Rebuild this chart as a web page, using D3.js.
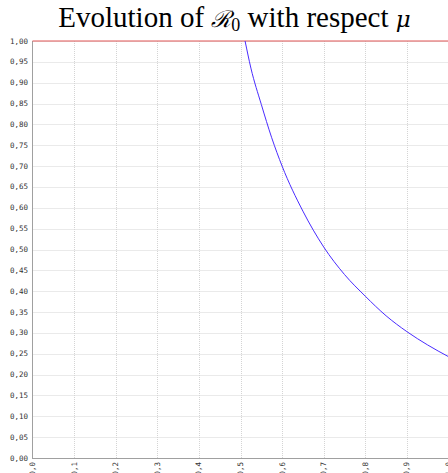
<!DOCTYPE html>
<html><head><meta charset="utf-8">
<script src="https://cdn.jsdelivr.net/npm/d3@7"></script>
<style>body{margin:0;background:#fff}svg{display:block}</style>
</head><body>
<svg id="c" width="448" height="473"></svg>
<script>
const muValues = [0.511,0.525,0.55,0.575,0.60,0.65,0.70,0.75,0.80,0.85,0.90,0.95,1.00];
const r0Values = [1.00,0.935,0.848,0.768,0.700,0.592,0.506,0.440,0.388,0.341,0.303,0.271,0.243];
const thresholdValue = 1.0;
const xTicks = [0,0.1,0.2,0.3,0.4,0.5,0.6,0.7,0.8,0.9,1.0];
const yTicks = d3.range(0,21).map(i=>i*0.05);

const svg = d3.select("#c");
const x = d3.scaleLinear().domain([0,1]).range([32.5,448.5]);
const y = d3.scaleLinear().domain([0,1]).range([458,41]);
const fmt1 = d => d3.format(".1f")(d).replace(".",",");
const fmt2 = d => d3.format(".2f")(d).replace(".",",");

// grid
const g = svg.append("g");
g.selectAll(".hg").data(yTicks.slice(1)).join("line")
 .attr("x1",x(0)).attr("x2",x(1)).attr("y1",d=>Math.round(y(d))+0.5).attr("y2",d=>Math.round(y(d))+0.5)
 .attr("stroke","#d4d4d4").attr("stroke-dasharray","1,1");
g.selectAll(".vg").data(xTicks.slice(1)).join("line")
 .attr("y1",y(0)).attr("y2",y(1)).attr("x1",d=>Math.round(x(d))+0.5).attr("x2",d=>Math.round(x(d))+0.5)
 .attr("stroke","#d4d4d4").attr("stroke-dasharray","1,1");

// axes lines
svg.append("line").attr("x1",32.5).attr("x2",32.5).attr("y1",y(1)).attr("y2",y(0)+0.5).attr("stroke","#a0a0a0");
svg.append("line").attr("x1",32).attr("x2",448).attr("y1",458.5).attr("y2",458.5).attr("stroke","#a0a0a0");

// y labels
svg.selectAll(".yl").data(yTicks).join("text")
 .attr("x",28).attr("y",d=>y(d)+2.5).attr("text-anchor","end")
 .attr("font-family","DejaVu Sans Mono").attr("font-size",7.5).attr("fill","#333").text(fmt2);
// x labels
svg.selectAll(".xl").data(xTicks).join("text")
 .attr("transform",d=>`translate(${x(d)+2.5},462) rotate(-90)`).attr("text-anchor","end")
 .attr("font-family","DejaVu Sans Mono").attr("font-size",7.5).attr("fill","#333").text(fmt1);

// threshold line
svg.append("line").attr("x1",x(0)).attr("x2",x(1)).attr("y1",y(thresholdValue)).attr("y2",y(thresholdValue))
 .attr("stroke","#e05555").attr("stroke-width",1);

// curve
const pts = muValues.map((m,i)=>[m,r0Values[i]]);
svg.append("path").datum(pts)
 .attr("d",d3.line().x(d=>x(d[0])).y(d=>y(d[1])).curve(d3.curveMonotoneX))
 .attr("fill","none").attr("stroke","#4a2cff").attr("stroke-width",1);

// title
const t = svg.append("text").attr("x",234.5).attr("y",27).attr("text-anchor","middle")
 .attr("font-family","Liberation Serif, serif").attr("font-size",29).attr("fill","#000");
t.append("tspan").text("Evolution of ");
t.append("tspan").attr("font-family","DejaVu Serif").attr("font-style","italic").attr("font-size",23).text("ℛ");
t.append("tspan").attr("font-size",18).attr("dy",4).text("0");
t.append("tspan").attr("dy",-4).text(" with respect ");
t.append("tspan").attr("font-family","DejaVu Serif").attr("font-style","italic").attr("font-size",23).text("μ");
</script>
</body></html>
